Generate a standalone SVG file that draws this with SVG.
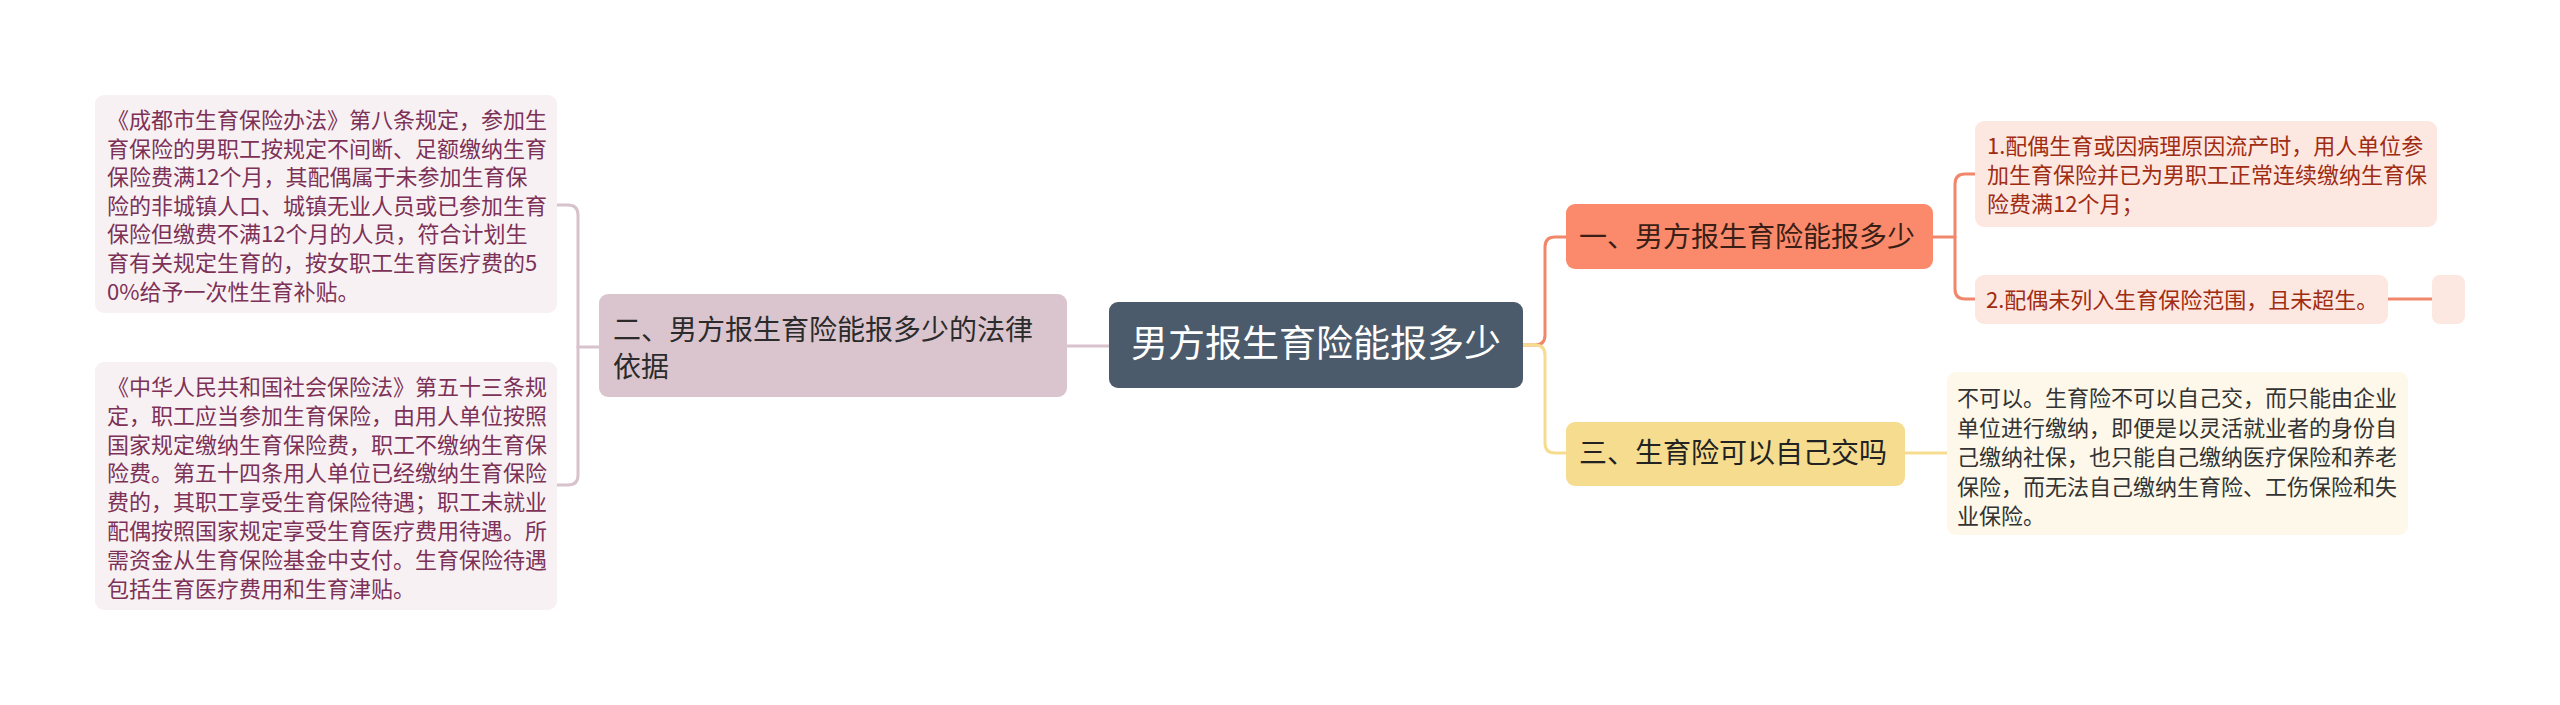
<svg xmlns="http://www.w3.org/2000/svg" width="2560" height="705" viewBox="0 0 2560 705">
<style>
text{font-family:"Noto Sans CJK SC","Microsoft YaHei",sans-serif;}
.c{fill:none;stroke-width:3;stroke-linecap:round;stroke-linejoin:round;}
.mauve{stroke:#d8c2cb;}
.coral{stroke:#f1876a;}
.yel{stroke:#f5dc8f;}
.t22{font-size:22px;}
.t28{font-size:28px;}
</style>
<rect width="2560" height="705" fill="#ffffff"/>
<g id="connectors">
<path class="c mauve" d="M1067,346 H1109"/>
<path class="c mauve" d="M599,347 H578"/>
<path class="c mauve" d="M557,205 H568 Q578,205 578,215 V475 Q578,485 568,485 H557"/>
<path class="c coral" d="M1523,345 H1535 Q1545,345 1545,335 V247 Q1545,237 1555,237 H1566"/>
<path class="c yel" d="M1523,345 H1535 Q1545,345 1545,355 V443 Q1545,453 1555,453 H1566"/>
<path class="c coral" d="M1933,237 H1955"/>
<path class="c coral" d="M1975,174 H1965 Q1955,174 1955,184 V289 Q1955,299 1965,299 H1975"/>
<path class="c coral" d="M2388,299 H2432"/>
<path class="c yel" d="M1905,453 H1947"/>
</g>
<g id="root">
<rect x="1109" y="302" width="414" height="86" rx="9" fill="#4b5b6b"/>
<text x="1316" y="357" font-size="37" fill="#ffffff" text-anchor="middle">男方报生育险能报多少</text>
</g>
<g id="node-2">
<rect x="599" y="294" width="468" height="103" rx="9" fill="#dac5ce"/>
<text class="t28" x="613" y="340" fill="#2b2b2b">二、男方报生育险能报多少的法律</text>
<text class="t28" x="613" y="377" fill="#2b2b2b">依据</text>
</g>
<g id="leaf-2a">
<rect x="95" y="95" width="462" height="218" rx="9" fill="#f8f1f4"/>
<g class="t22" fill="#7d3157">
<text x="107" y="128">《成都市生育保险办法》第八条规定，参加生</text>
<text x="107" y="156.6">育保险的男职工按规定不间断、足额缴纳生育</text>
<text x="107" y="185.2">保险费满12个月，其配偶属于未参加生育保</text>
<text x="107" y="213.8">险的非城镇人口、城镇无业人员或已参加生育</text>
<text x="107" y="242.4">保险但缴费不满12个月的人员，符合计划生</text>
<text x="107" y="271">育有关规定生育的，按女职工生育医疗费的5</text>
<text x="107" y="299.6">0%给予一次性生育补贴。</text>
</g>
</g>
<g id="leaf-2b">
<rect x="95" y="362" width="462" height="248" rx="9" fill="#f8f1f4"/>
<g class="t22" fill="#7d3157">
<text x="107" y="395">《中华人民共和国社会保险法》第五十三条规</text>
<text x="107" y="423.8">定，职工应当参加生育保险，由用人单位按照</text>
<text x="107" y="452.6">国家规定缴纳生育保险费，职工不缴纳生育保</text>
<text x="107" y="481.4">险费。第五十四条用人单位已经缴纳生育保险</text>
<text x="107" y="510.2">费的，其职工享受生育保险待遇；职工未就业</text>
<text x="107" y="539">配偶按照国家规定享受生育医疗费用待遇。所</text>
<text x="107" y="567.8">需资金从生育保险基金中支付。生育保险待遇</text>
<text x="107" y="596.6">包括生育医疗费用和生育津贴。</text>
</g>
</g>
<g id="node-1">
<rect x="1566" y="204" width="367" height="65" rx="9" fill="#fa8a6b"/>
<text class="t28" x="1579" y="247" fill="#3a1f16">一、男方报生育险能报多少</text>
</g>
<g id="leaf-1a">
<rect x="1975" y="121" width="462" height="106" rx="9" fill="#fde7e1"/>
<g class="t22" fill="#a02c12">
<text x="1987" y="154">1.配偶生育或因病理原因流产时，用人单位参</text>
<text x="1987" y="183">加生育保险并已为男职工正常连续缴纳生育保</text>
<text x="1987" y="212">险费满12个月；</text>
</g>
</g>
<g id="leaf-1b">
<rect x="1975" y="275" width="413" height="49" rx="9" fill="#fde7e1"/>
<text class="t22" x="1986" y="308" fill="#a02c12">2.配偶未列入生育保险范围，且未超生。</text>
</g>
<g id="leaf-1b-child">
<rect x="2432" y="275" width="33" height="49" rx="8" fill="#fde7e1"/>
</g>
<g id="node-3">
<rect x="1566" y="422" width="339" height="64" rx="9" fill="#f6dc8e"/>
<text class="t28" x="1579" y="463" fill="#222222">三、生育险可以自己交吗</text>
</g>
<g id="leaf-3a">
<rect x="1947" y="372" width="461" height="163" rx="9" fill="#fdf8e9"/>
<g class="t22" fill="#333333">
<text x="1957" y="406">不可以。生育险不可以自己交，而只能由企业</text>
<text x="1957" y="435.5">单位进行缴纳，即便是以灵活就业者的身份自</text>
<text x="1957" y="465">己缴纳社保，也只能自己缴纳医疗保险和养老</text>
<text x="1957" y="494.5">保险，而无法自己缴纳生育险、工伤保险和失</text>
<text x="1957" y="524">业保险。</text>
</g>
</g>
</svg>
